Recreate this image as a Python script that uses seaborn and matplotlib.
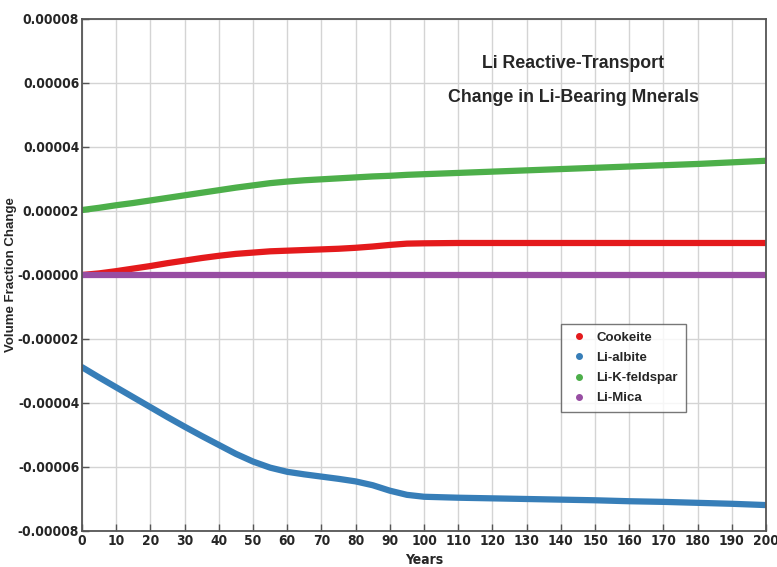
import numpy as np
import pandas as pd
import seaborn as sns
import matplotlib
matplotlib.use("Agg")
import matplotlib.pyplot as plt
from matplotlib.lines import Line2D
from matplotlib.ticker import FuncFormatter, MultipleLocator

# values, units of 1e-5 volume fraction
years = list(range(0, 101, 5)) + list(range(110, 201, 10))
cookeite = [0.00, 0.05, 0.12, 0.20, 0.28, 0.37, 0.45, 0.53, 0.60, 0.66, 0.70,
            0.74, 0.76, 0.78, 0.80, 0.82, 0.85, 0.89, 0.94, 0.98, 0.99,
            1.00, 1.00, 1.00, 1.00, 1.00, 1.00, 1.00, 1.00, 1.00, 1.00]
li_albite = [-2.88, -3.20, -3.51, -3.82, -4.13, -4.44, -4.74, -5.03, -5.31, -5.59, -5.83,
             -6.02, -6.15, -6.23, -6.30, -6.37, -6.45, -6.57, -6.74, -6.87, -6.93,
             -6.96, -6.98, -7.00, -7.02, -7.04, -7.07, -7.09, -7.12, -7.15, -7.19]
li_kfeldspar = [2.03, 2.10, 2.18, 2.25, 2.33, 2.41, 2.49, 2.57, 2.65, 2.73, 2.80,
                2.87, 2.92, 2.96, 2.99, 3.02, 3.05, 3.08, 3.10, 3.13, 3.15,
                3.19, 3.23, 3.27, 3.31, 3.35, 3.39, 3.43, 3.47, 3.52, 3.57]
li_mica = [0.0] * len(years)

minerals = ["Cookeite", "Li-albite", "Li-K-feldspar", "Li-Mica"]
colors = ["#e41a1c", "#377eb8", "#4daf4a", "#984ea3"]

df = pd.concat([
    pd.DataFrame({"Years": years, "value": np.array(v) * 1e-5, "mineral": m})
    for m, v in zip(minerals, [cookeite, li_albite, li_kfeldspar, li_mica])
])

sns.set_style("whitegrid")
plt.rcParams['font.family'] = ['Liberation Sans', 'DejaVu Sans']

fig = plt.figure(figsize=(7.77, 5.67), dpi=100)
ax = fig.add_axes([0.1055, 0.0635, 0.8805, 0.903])

sns.lineplot(data=df, x="Years", y="value", hue="mineral", palette=colors,
             linewidth=4.5, ax=ax, legend=False, solid_capstyle='round')

ax.set_xlim(0, 200)
ax.set_ylim(-0.00008, 0.00008)
ax.xaxis.set_major_locator(MultipleLocator(10))
ax.yaxis.set_major_locator(MultipleLocator(0.00002))

def yfmt(v, pos):
    if abs(v) < 1e-12:
        return "-0.00000"
    return "%.5f" % v

ax.yaxis.set_major_formatter(FuncFormatter(yfmt))
ax.grid(True, color="#d4d4d4", linewidth=1.0)
for s in ax.spines.values():
    s.set_color("#555555")
    s.set_linewidth(1.3)
    s.set_visible(True)

ax.tick_params(direction="in", length=5, width=1, color="#555555",
               left=True, bottom=True, pad=2)
for lab in ax.get_xticklabels() + ax.get_yticklabels():
    lab.set_family(['DejaVu Sans'])
    lab.set_fontstretch("condensed")
    lab.set_fontweight("bold")
    lab.set_fontsize(9.8)

ax.set_xlabel("Years", fontsize=10, fontweight="bold", fontstretch="condensed",
              family=['DejaVu Sans'])
ax.xaxis.set_label_coords(0.5, -0.043)
ax.set_ylabel("Volume Fraction Change", fontsize=9.5, fontweight="bold")
ax.yaxis.set_label_coords(-0.095, 0.5)

ax.text(0.718, 0.914, "Li Reactive-Transport", transform=ax.transAxes,
        ha="center", va="center", fontsize=12.8, fontweight="bold")
ax.text(0.718, 0.846, "Change in Li-Bearing Mnerals", transform=ax.transAxes,
        ha="center", va="center", fontsize=12.8, fontweight="bold")

handles = [Line2D([], [], marker="o", linestyle="", color=c, markersize=4)
           for c in colors]
leg = ax.legend(handles, minerals, loc="lower left", bbox_to_anchor=(0.70, 0.232),
                borderaxespad=0, frameon=True, fancybox=False, handletextpad=0.6,
                borderpad=0.6, labelspacing=0.6, handlelength=1.5,
                prop={"weight": "bold", "size": 9.5})
leg.get_frame().set_edgecolor("#555555")
leg.get_frame().set_linewidth(1.0)

fig.savefig("out.png", dpi=100)
